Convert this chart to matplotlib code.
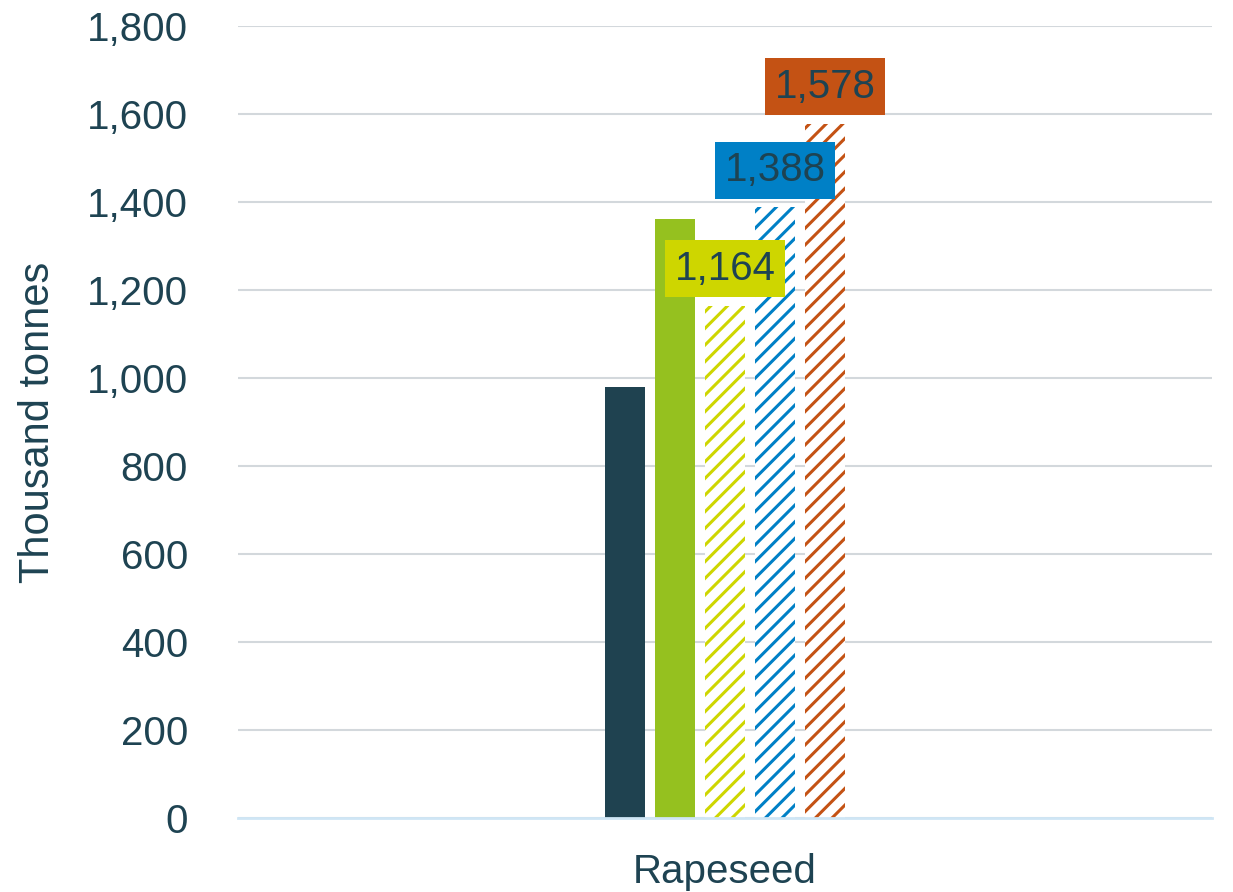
import matplotlib.pyplot as plt
from matplotlib.ticker import FuncFormatter

plt.rcParams['font.family'] = ['Liberation Sans', 'DejaVu Sans']
plt.rcParams['hatch.linewidth'] = 2.2

category = 'Rapeseed'
values = [980, 1362, 1164, 1388, 1578]
colors = ['#1F4250', '#95C11F', '#CED600', '#0080C6', '#C45214']
hatches = [None, None, '//', '//', '//']
labelled = [False, False, True, True, True]

text_col = '#1E4352'

fig = plt.figure(figsize=(12.33, 8.92), dpi=100)
ax = fig.add_axes([238 / 1233, (892 - 818) / 892, (1212 - 238) / 1233, 792 / 892])

width = 40 / 974
step = 50 / 974
for i, (v, c, h) in enumerate(zip(values, colors, hatches)):
    x = 0.5 + (i - 2) * step
    if h:
        ax.bar(x, v, width=width, color='white', edgecolor=c, hatch=h, linewidth=0)
    else:
        ax.bar(x, v, width=width, color=c, linewidth=0)
    if labelled[i]:
        ax.annotate(f'{v:,}', (x, v), xytext=(0, 13), textcoords='offset points',
                    ha='center', va='bottom', fontsize=29, color=text_col,
                    bbox=dict(boxstyle='square,pad=0.24', fc=c, ec='none'))

ax.set_xlim(0, 1)
ax.set_ylim(0, 1800)
ax.set_yticks(range(0, 1801, 200))
ax.yaxis.set_major_formatter(FuncFormatter(lambda v, p: f'{int(v):,}'))
ax.set_xticks([0.5])
ax.set_xticklabels([category])
ax.tick_params(axis='both', length=0, labelsize=29, colors=text_col)
ax.tick_params(axis='y', pad=36)
ax.tick_params(axis='x', pad=25)
ax.set_ylabel('Thousand tonnes', fontsize=30, color=text_col)
ax.yaxis.set_label_coords(-0.185, 0.5)

ax.grid(axis='y', color='#D3D8DC', linewidth=1.5)
ax.set_axisbelow(True)
for s in ['top', 'right', 'left']:
    ax.spines[s].set_visible(False)
ax.spines['bottom'].set_color('#CFE6F5')
ax.spines['bottom'].set_linewidth(2)
ax.spines['bottom'].set_zorder(3)

fig.savefig('out.png', dpi=100)
